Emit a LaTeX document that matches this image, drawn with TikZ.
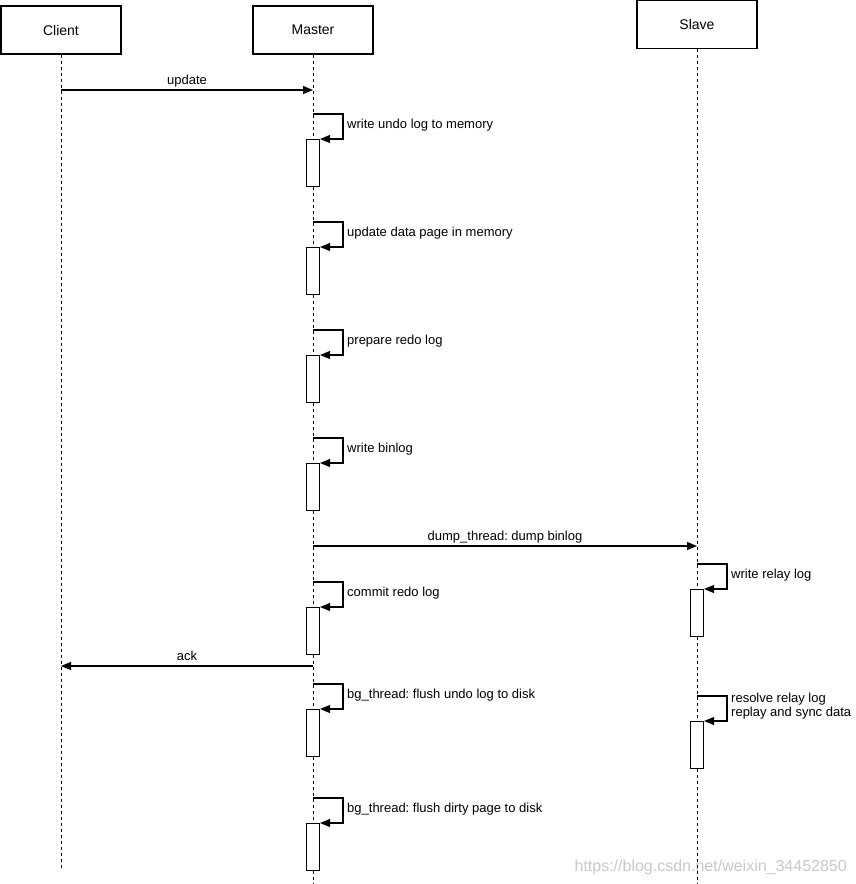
\documentclass[tikz,border=0pt]{standalone}
\usepackage{fontspec}
\setmainfont{Liberation Sans}
\usetikzlibrary{arrows.meta}
\definecolor{wmark}{RGB}{200,200,200}
\frenchspacing
\begin{document}
\begin{tikzpicture}[x=1pt,y=-1pt,
  head/.style={draw, line width=1.1pt, minimum width=120pt, minimum height=48pt, font=\fontsize{14}{16}\selectfont, inner sep=0pt},
  life/.style={line width=1pt, dash pattern=on 3pt off 3pt},
  act/.style={draw, fill=white, line width=1.1pt, minimum width=13pt, minimum height=47pt, inner sep=0pt, anchor=north},
  msg/.style={line width=1.1pt, -{Triangle[length=10pt,width=8pt]}},
  lbl/.style={font=\fontsize{13}{15}\selectfont, inner sep=0pt, anchor=base},
  slbl/.style={font=\fontsize{13}{15}\selectfont, inner sep=0pt, anchor=base west},
]
\useasboundingbox (0,0) rectangle (855,884);

% watermark
\node[font=\fontsize{16}{18}\selectfont, text=wmark, inner sep=0pt, anchor=base east] (wm) at (847,871) {https://blog.csdn.net/weixin\_34452850};

% headers
\node[head] (client) at (61,30) {Client};
\node[head] (master) at (313,30) {Master};
\node[head] (slave) at (697,24.5) {Slave};

% lifeline ends
\coordinate (cend) at (61,870);
\coordinate (mend) at (313,884);
\coordinate (send) at (697,884);
\draw[life] (client.south) -- (cend);
\draw[life] (master.south) -- (mend);
\draw[life] (slave.south) -- (send);

% activations on master
\foreach \n/\y in {a1/139, a2/247, a3/355, a4/463, a5/607, a6/709, a7/823} {
  \node[act] (\n) at (313,\y) {};
}
% activations on slave
\node[act] (b1) at (697,589) {};
\node[act] (b2) at (697,721) {};

% self-message start points
\foreach \n/\y in {s1/114, s2/222, s3/330, s4/438, s5/582, s6/684, s7/798} {
  \coordinate (\n) at (313,\y);
}
\coordinate (t1) at (697,564);
\coordinate (t2) at (697,696);

% self messages
\foreach \s/\a in {s1/a1, s2/a2, s3/a3, s4/a4, s5/a5, s6/a6, s7/a7, t1/b1, t2/b2} {
  \draw[msg] (\s) -- ++(30,0) |- (\a.north east);
}

% self labels
\node[slbl] (l1) at (347,128) {write undo log to memory};
\node[slbl] (l2) at (347,236) {update data page in memory};
\node[slbl] (l3) at (347,344) {prepare redo log};
\node[slbl] (l4) at (347,452) {write binlog};
\node[slbl] (l5) at (347,596) {commit redo log};
\node[slbl] (l6) at (347,698) {bg\_thread: flush undo log to disk};
\node[slbl] (l7) at (347,812) {bg\_thread: flush dirty page to disk};
\node[slbl] (m1) at (731,578) {write relay log};
\node[slbl] (m2a) at (731,702) {resolve relay log};
\node[slbl] (m2b) at (731,716) {replay and sync data};

% messages between lifelines
\coordinate (u1) at (61,90);
\coordinate (u2) at (313,90);
\draw[msg] (u1) -- node[lbl, above=6pt, anchor=base] (lu) {update} (u2);

\coordinate (d1) at (313,546);
\coordinate (d2) at (697,546);
\draw[msg] (d1) -- node[lbl, above=6pt, anchor=base] (ld) {dump\_thread: dump binlog} (d2);

\coordinate (k1) at (313,666);
\coordinate (k2) at (61,666);
\draw[msg] (k1) -- node[lbl, above=6pt, anchor=base] (lk) {ack} (k2);
\end{tikzpicture}
\end{document}
